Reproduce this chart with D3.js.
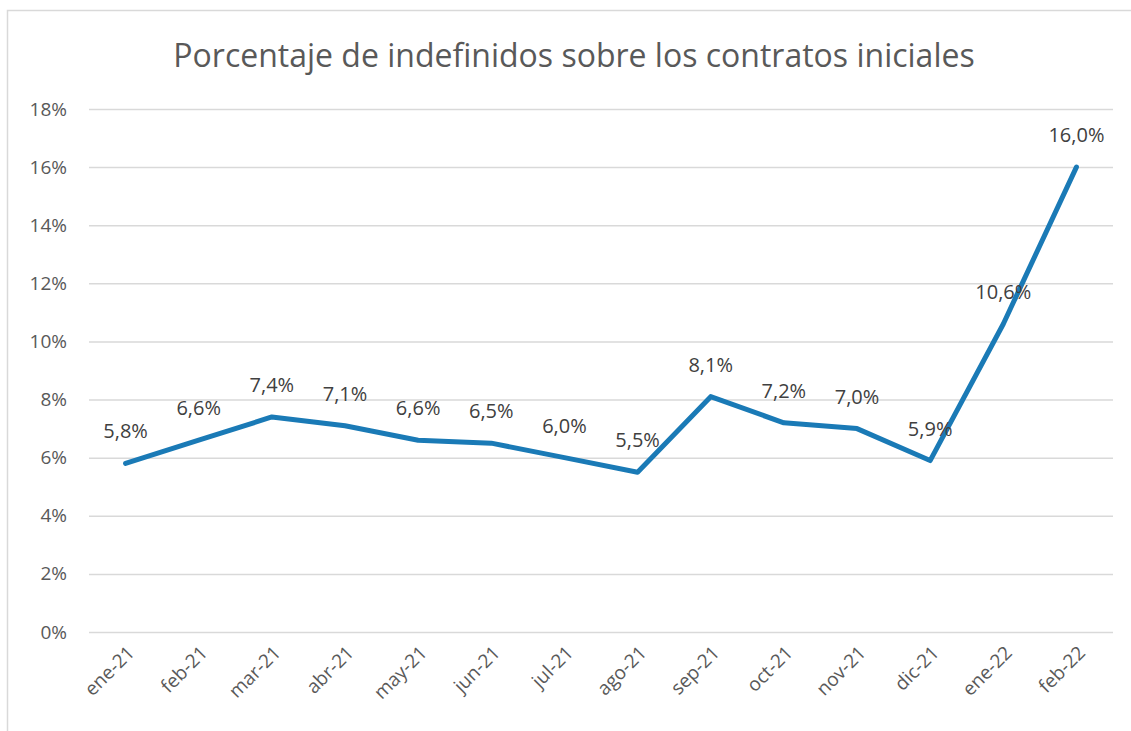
<!DOCTYPE html>
<html>
<head>
<meta charset="utf-8">
<script src="https://cdn.jsdelivr.net/npm/d3@7"></script>
<style>
  body { margin: 0; background: #fff; }
  svg { display: block; }
  svg text { font-family: "Open Sans", "Noto Sans", sans-serif; }
</style>
</head>
<body>
<div id="chart"></div>
<script>
'use strict';

const months = ["ene-21", "feb-21", "mar-21", "abr-21", "may-21", "jun-21", "jul-21",
    "ago-21", "sep-21", "oct-21", "nov-21", "dic-21", "ene-22", "feb-22"];
const pctValues = [5.8, 6.6, 7.4, 7.1, 6.6, 6.5, 6.0, 5.5, 8.1, 7.2, 7.0, 5.9, 10.6, 16.0];
const yTicks = [0, 2, 4, 6, 8, 10, 12, 14, 16, 18];
const title = "Porcentaje de indefinidos sobre los contratos iniciales";

var W = 1131, H = 731;
var margin = { top: 109, right: 18, bottom: 99, left: 89 },
    width = W - margin.left - margin.right,
    height = H - margin.top - margin.bottom;

var svg = d3.select("#chart").append("svg")
    .attr("width", W)
    .attr("height", H);

// chart area border
svg.append("rect")
    .attr("x", 7.5).attr("y", 10.5)
    .attr("width", W + 20).attr("height", H + 20)
    .style("fill", "none")
    .style("stroke", "#d9d9d9")
    .style("stroke-width", "1.5px");

svg.append("text")
    .attr("x", 574).attr("y", 67)
    .attr("text-anchor", "middle")
    .style("font-size", "32px")
    .style("fill", "#595959")
    .text(title);

var g = svg.append("g")
    .attr("transform", "translate(" + margin.left + "," + margin.top + ")");

var x = d3.scaleBand()
    .domain(months)
    .range([0, width]);

var y = d3.scaleLinear()
    .domain([0, 18])
    .range([height, 0]);

var yAxis = d3.axisLeft(y)
    .tickValues(yTicks)
    .tickSize(-width)
    .tickPadding(22)
    .tickFormat(function (d) { return d + "%"; });

g.append("g")
    .call(yAxis)
    .call(function (a) {
        a.attr("font-family", null);
        a.select(".domain").remove();
        a.selectAll(".tick line").style("stroke", "#d9d9d9").style("stroke-width", "1.5px");
        a.selectAll(".tick text").style("font-size", "19px").style("fill", "#595959");
    });

var xAxis = d3.axisBottom(x).tickSize(0);

g.append("g")
    .attr("transform", "translate(0," + height + ")")
    .call(xAxis)
    .call(function (a) {
        a.attr("font-family", null);
        a.select(".domain").remove();
        a.selectAll(".tick text")
            .style("font-size", "19px")
            .style("fill", "#595959")
            .attr("text-anchor", "end")
            .attr("dy", null)
            .attr("y", 0)
            .attr("transform", "translate(10,22) rotate(-45)");
    });

var line = d3.line()
    .x(function (d, i) { return x(months[i]) + x.bandwidth() / 2; })
    .y(function (d) { return y(d); });

g.append("path")
    .datum(pctValues)
    .style("fill", "none")
    .style("stroke", "#1a7ab6")
    .style("stroke-width", "5px")
    .style("stroke-linejoin", "round")
    .style("stroke-linecap", "round")
    .attr("d", line);

g.selectAll(".lbl")
    .data(pctValues)
    .enter().append("text")
    .attr("class", "lbl")
    .attr("x", function (d, i) { return x(months[i]) + x.bandwidth() / 2; })
    .attr("y", function (d) { return y(d) - 25; })
    .attr("text-anchor", "middle")
    .style("font-size", "20px")
    .style("fill", "#404040")
    .text(function (d) { return d.toFixed(1).replace(".", ",") + "%"; });
</script>
</body>
</html>
